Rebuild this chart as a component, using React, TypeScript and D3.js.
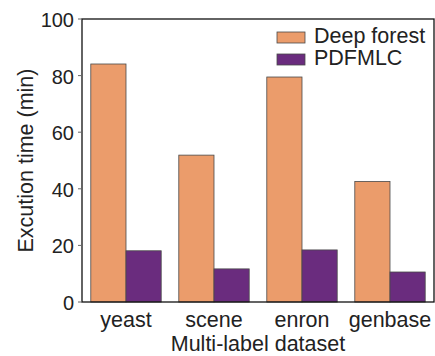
import React from "react";
import * as d3 from "d3";

const datasets = ["yeast", "scene", "enron", "genbase"];
const seriesNames = ["Deep forest", "PDFMLC"];
const deepForest = [84.1, 51.9, 79.5, 42.6];
const pdfmlc = [18.1, 11.7, 18.4, 10.6];
const yTicks = [0, 20, 40, 60, 80, 100];
const colors = ["#EB9C6B", "#6A2C7E"];

const W = 435;
const H = 356;
const M = { left: 82, right: 1, top: 19, bottom: 54 };

export default function App() {
  const x0 = d3
    .scaleBand<string>()
    .domain(datasets)
    .range([M.left, W - M.right])
    .paddingInner(0.2)
    .paddingOuter(0.1);
  const x1 = d3
    .scaleBand<string>()
    .domain(seriesNames)
    .range([0, x0.bandwidth()]);
  const y = d3.scaleLinear().domain([0, 100]).range([H - M.bottom, M.top]);
  const series = [deepForest, pdfmlc];
  const font = "'Liberation Sans', Arial, sans-serif";
  const txt = "#222";
  const fs = 21.5;

  return (
    <svg
      width={W}
      height={H}
      style={{ position: "absolute", left: 0, top: 0 }}
      fontFamily={font}
    >
      {datasets.map((d, i) =>
        seriesNames.map((s, j) => (
          <rect
            key={d + s}
            x={(x0(d) as number) + (x1(s) as number)}
            y={y(series[j][i])}
            width={x1.bandwidth()}
            height={y(0) - y(series[j][i])}
            fill={colors[j]}
            stroke="#4a4a4a"
            strokeWidth={0.8}
          />
        ))
      )}
      <rect
        x={M.left}
        y={M.top}
        width={W - M.right - M.left}
        height={y(0) - M.top}
        fill="none"
        stroke="#111"
        strokeWidth={1.3}
      />
      {yTicks.map((t) => (
        <g key={t}>
          <line x1={M.left - 4} x2={M.left} y1={y(t)} y2={y(t)} stroke="#666" strokeWidth={1} />
          <text
            x={M.left - 8}
            y={y(t)}
            dy="0.4em"
            textAnchor="end"
            fontSize={20}
            fill={txt}
          >
            {t}
          </text>
        </g>
      ))}
      {datasets.map((d) => (
        <text
          key={d}
          x={(x0(d) as number) + x0.bandwidth() / 2}
          y={327}
          textAnchor="middle"
          fontSize={fs}
          fill={txt}
        >
          {d}
        </text>
      ))}
      <text x={258} y={351} textAnchor="middle" fontSize={fs} fill={txt}>
        Multi-label dataset
      </text>
      <text
        transform={`translate(33, ${(M.top + y(0)) / 2}) rotate(-90)`}
        textAnchor="middle"
        fontSize={fs}
        fill={txt}
      >
        Excution time (min)
      </text>
      {seriesNames.map((s, j) => (
        <g key={s} transform={`translate(277, ${32 + j * 22})`}>
          <rect width={28} height={11} fill={colors[j]} stroke="#4a4a4a" strokeWidth={0.8} />
          <text x={37} y={11.3} fontSize={fs} fill={txt}>
            {s}
          </text>
        </g>
      ))}
    </svg>
  );
}
